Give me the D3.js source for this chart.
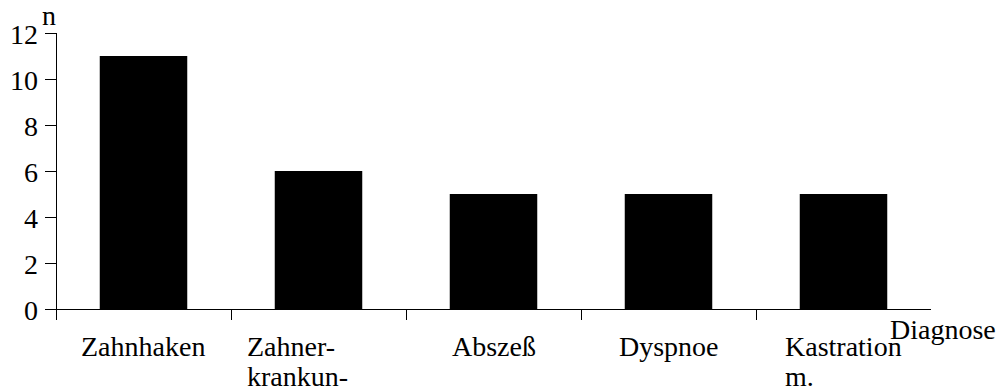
<!DOCTYPE html>
<html>
<head>
<meta charset="utf-8">
<script src="https://cdn.jsdelivr.net/npm/d3@7/dist/d3.min.js"></script>
<style>
  html, body { margin: 0; padding: 0; background: #fff; }
  svg { display: block; }
</style>
</head>
<body>
<svg id="chart" width="1002" height="392"></svg>
<script>
// ---- data ----
const categories = ["Zahnhaken", "Zahnerkrankungen", "Abszeß", "Dyspnoe", "Kastration m."];
const labelLines = [["Zahnhaken"], ["Zahner-", "krankun-"], ["Abszeß"], ["Dyspnoe"], ["Kastration", "m."]];
const counts = [11, 6, 5, 5, 5];
const yTicks = [0, 2, 4, 6, 8, 10, 12];
const yTitle = "n";
const xTitle = "Diagnose";

(function () {
const FONT = '"Liberation Serif"';
const svg = d3.select("#chart");
const mLeft = 56, mRight = 931, mTop = 33, mBottom = 309;
const fontSize = 28;

const x = d3.scaleBand().domain(categories).range([mLeft, mRight])
  .paddingInner(0.5).paddingOuter(0.25);
const y = d3.scaleLinear().domain([0, 12]).range([mBottom, mTop]);

// bars
svg.append("g").selectAll("rect").data(categories).join("rect")
  .attr("x", d => x(d))
  .attr("y", (d, i) => y(counts[i]))
  .attr("width", x.bandwidth())
  .attr("height", (d, i) => y(0) - y(counts[i]))
  .attr("fill", "#000");

// y axis line + ticks
const yg = svg.append("g");
yg.append("line")
  .attr("x1", mLeft + 0.5).attr("x2", mLeft + 0.5)
  .attr("y1", y(12)).attr("y2", y(0))
  .attr("stroke", "#000");
yg.selectAll("line.tick").data(yTicks).join("line")
  .attr("class", "tick")
  .attr("x1", mLeft - 11).attr("x2", mLeft)
  .attr("y1", d => Math.round(y(d)) + 0.5).attr("y2", d => Math.round(y(d)) + 0.5)
  .attr("stroke", "#000");
yTicks.forEach(d => {
  svg.append("text")
    .attr("x", mLeft - 18)
    .attr("y", Math.round(y(d)) + 11)
    .attr("text-anchor", "end")
    .style("font-family", FONT)
    .style("font-size", fontSize + "px")
    .text(d);
});

// x axis
const half = (x.step() - x.bandwidth()) / 2;
const boundaries = categories.map(c => x(c) - half);
const xg = svg.append("g");
xg.append("line")
  .attr("x1", mLeft).attr("x2", mRight)
  .attr("y1", y(0) + 0.5).attr("y2", y(0) + 0.5)
  .attr("stroke", "#000");
xg.selectAll("line.tick").data(boundaries).join("line")
  .attr("class", "tick")
  .attr("x1", d => Math.round(d) + 0.5).attr("x2", d => Math.round(d) + 0.5)
  .attr("y1", y(0)).attr("y2", y(0) + 11)
  .attr("stroke", "#000");

// category labels
const lineH = 30;
const labelDx = [0, -21, 0, 0, 0];
categories.forEach((c, i) => {
  const cx = x(c) + x.bandwidth() / 2;
  const lines = labelLines[i];
  const texts = lines.map((l, j) => svg.append("text")
    .style("font-family", FONT)
    .style("font-size", fontSize + "px")
    .attr("y", Math.round(y(0) + 47 + j * lineH))
    .text(l));
  let w = 0;
  texts.forEach(t => { w = Math.max(w, t.node().getComputedTextLength()); });
  const lx = Math.round(cx - w / 2 + labelDx[i]);
  texts.forEach(t => t.attr("x", lx));
});

// axis titles
svg.append("text")
  .attr("x", mLeft - 14).attr("y", mTop - 8)
  .style("font-family", FONT)
  .style("font-size", fontSize + "px")
  .text(yTitle);
svg.append("text")
  .attr("x", 890).attr("y", y(0) + 30)
  .style("font-family", FONT)
  .style("font-size", "28px")
  .text(xTitle);
})();
</script>
</body>
</html>
